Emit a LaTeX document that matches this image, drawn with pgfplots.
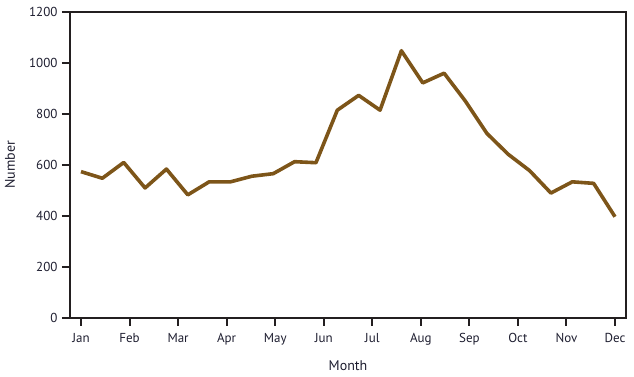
\documentclass[border=0pt]{standalone}
\usepackage{pgfplots}
\pgfplotsset{compat=1.18}
\usepackage{fontspec}
\setmainfont{PT Sans}
\definecolor{brownline}{HTML}{7D5519}
\definecolor{axiscol}{HTML}{231F20}
\definecolor{textcol}{HTML}{1E1E30}
\begin{document}
\begin{tikzpicture}[x=1pt,y=1pt]
\path[use as bounding box] (0,0) rectangle (634,377);
\begin{axis}[
  at={(70pt,59pt)}, anchor=south west,
  scale only axis, width=556pt, height=306pt,
  xmin=-0.515, xmax=25.515, ymin=0, ymax=1200,
  ytick={0,200,...,1200},
  xtick={0,2.2727,4.5455,6.8182,9.0909,11.3636,13.6364,15.9091,18.1818,20.4545,22.7273,25},
  xticklabels={Jan,Feb,Mar,Apr,May,Jun,Jul,Aug,Sep,Oct,Nov,Dec},
  axis line style={color=axiscol, line width=2pt},
  tick style={color=axiscol, line width=2pt},
  tick align=outside, major tick length=8pt,
  xtick pos=bottom, ytick pos=left,
  /pgf/number format/assume math mode=true,
  /pgf/number format/1000 sep={},
  tick label style={font=\fontsize{13}{15}\selectfont, text=textcol},
  xticklabel style={yshift=-4pt},
  yticklabel style={xshift=-1pt},
  label style={font=\fontsize{14}{16}\selectfont, text=textcol},
  xlabel={Month}, ylabel={Number},
  xlabel style={at={(axis description cs:0.5,-0.157)}, anchor=center},
  ylabel style={at={(axis description cs:-0.108,0.5)}, anchor=center},
  clip=false,
]
\addplot[color=brownline, line width=3.6pt, line join=round] coordinates {
(0,574) (1,548) (2,610) (3,510) (4,584) (5,483) (6,534) (7,534) (8,556) (9,566)
(10,613) (11,609) (12,815) (13,873) (14,815) (15,1048) (16,922) (17,960) (18,850)
(19,724) (20,642) (21,578) (22,490) (23,534) (24,528) (25,397)
};
\end{axis}
\end{tikzpicture}
\end{document}
